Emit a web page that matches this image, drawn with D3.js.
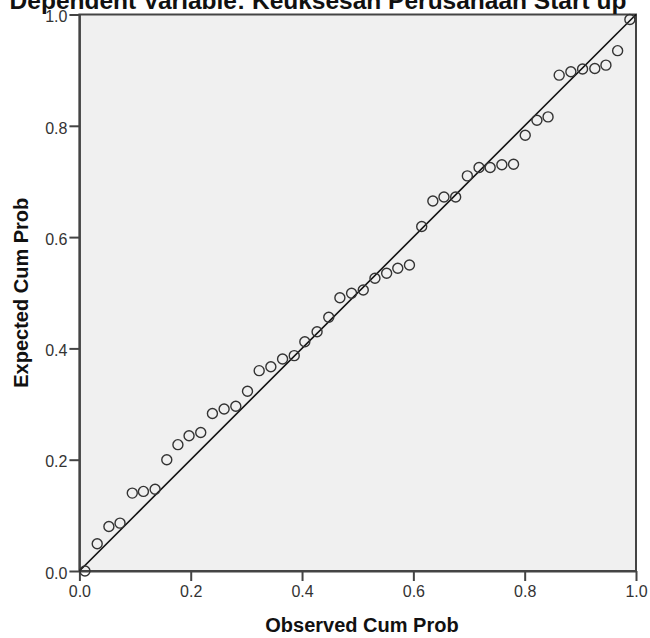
<!DOCTYPE html>
<html>
<head>
<meta charset="utf-8">
<script src="https://cdnjs.cloudflare.com/ajax/libs/d3/7.8.5/d3.min.js"></script>
<style>
    body { margin: 0; background: #ffffff; }
    #chart text { font-family: "Liberation Sans", Arial, sans-serif; }
</style>
</head>
<body>
<div id="chart"></div>
<script>
// Normal P-P Plot of Regression Standardized Residual
var chartTitle = "Dependent Variable: Keuksesan Perusahaan Start up";
var xLabel = "Observed Cum Prob";
var yLabel = "Expected Cum Prob";
var tickValues = [0.0, 0.2, 0.4, 0.6, 0.8, 1.0];

var observedProb = [0.010, 0.032, 0.053, 0.073, 0.095, 0.115, 0.136, 0.157, 0.177, 0.197,
    0.218, 0.239, 0.260, 0.281, 0.302, 0.323, 0.344, 0.365, 0.386, 0.405,
    0.427, 0.448, 0.468, 0.489, 0.510, 0.531, 0.552, 0.572, 0.593, 0.615,
    0.635, 0.655, 0.676, 0.697, 0.718, 0.738, 0.759, 0.780, 0.801, 0.822,
    0.842, 0.862, 0.883, 0.904, 0.926, 0.946, 0.967, 0.989];
var expectedProb = [0.000, 0.049, 0.080, 0.086, 0.140, 0.143, 0.147, 0.200, 0.227, 0.243,
    0.249, 0.283, 0.291, 0.296, 0.323, 0.360, 0.367, 0.381, 0.387, 0.412,
    0.430, 0.456, 0.491, 0.499, 0.505, 0.526, 0.535, 0.544, 0.550, 0.619,
    0.665, 0.672, 0.672, 0.710, 0.725, 0.725, 0.730, 0.731, 0.783, 0.810,
    0.816, 0.891, 0.897, 0.902, 0.903, 0.909, 0.935, 0.991];

var width = 650, height = 638;
var padding = { top: 14.5, right: 14, bottom: 67, left: 79.4 };
var innerW = width - padding.left - padding.right;
var innerH = height - padding.top - padding.bottom;

var svg = d3.select("#chart")
    .append("svg")
    .attr("width", width)
    .attr("height", height);

var xScale = d3.scaleLinear().domain([0, 1]).range([0, innerW]);
var yScale = d3.scaleLinear().domain([0, 1]).range([innerH, 0]);

var g = svg.append("g")
    .attr("transform", "translate(" + padding.left + "," + padding.top + ")");

// plot background + frame
g.append("rect")
    .attr("x", 0)
    .attr("y", 0)
    .attr("width", innerW)
    .attr("height", innerH)
    .attr("fill", "#f0f0f0")
    .attr("stroke", "#444")
    .attr("stroke-width", 2);

var xAxis = d3.axisBottom(xScale)
    .tickValues(tickValues)
    .tickFormat(d3.format(".1f"))
    .tickSize(10)
    .tickSizeOuter(0)
    .tickPadding(5);
var yAxis = d3.axisLeft(yScale)
    .tickValues(tickValues)
    .tickFormat(d3.format(".1f"))
    .tickSize(10)
    .tickSizeOuter(0)
    .tickPadding(2);

g.append("g")
    .attr("class", "axis")
    .attr("id", "x")
    .attr("transform", "translate(0," + innerH + ")")
    .call(xAxis);
g.append("g")
    .attr("class", "axis")
    .attr("id", "y")
    .call(yAxis);

g.selectAll(".axis path").attr("stroke", "#444").attr("stroke-width", 2);
g.selectAll(".axis line").attr("stroke", "#444").attr("stroke-width", 2);
g.selectAll(".axis text")
    .attr("font-size", "16px")
    .attr("fill", "#333");
g.select("#y").selectAll("text").attr("dy", "0.45em");

// reference line
g.append("line")
    .attr("x1", xScale(0))
    .attr("y1", yScale(0))
    .attr("x2", xScale(1))
    .attr("y2", yScale(1))
    .attr("stroke", "#111")
    .attr("stroke-width", 1.6);

// points
g.append("g")
    .selectAll("circle")
    .data(observedProb)
    .enter()
    .append("circle")
    .attr("cx", function(d) { return xScale(d); })
    .attr("cy", function(d, i) { return yScale(expectedProb[i]); })
    .attr("r", 5)
    .attr("fill", "none")
    .attr("stroke", "#333")
    .attr("stroke-width", 1.4);

// titles
svg.append("text")
    .attr("x", 318)
    .attr("y", 9)
    .attr("text-anchor", "middle")
    .attr("font-size", "24.5px")
    .attr("font-weight", "bold")
    .attr("fill", "#111")
    .text(chartTitle);

svg.append("text")
    .attr("x", 362)
    .attr("y", 632)
    .attr("text-anchor", "middle")
    .attr("font-size", "20px")
    .attr("font-weight", "bold")
    .attr("fill", "#111")
    .text(xLabel);

svg.append("text")
    .attr("transform", "translate(28," + (padding.top + innerH / 2) + ") rotate(-90)")
    .attr("text-anchor", "middle")
    .attr("font-size", "20px")
    .attr("font-weight", "bold")
    .attr("fill", "#111")
    .text(yLabel);
</script>
</body>
</html>
